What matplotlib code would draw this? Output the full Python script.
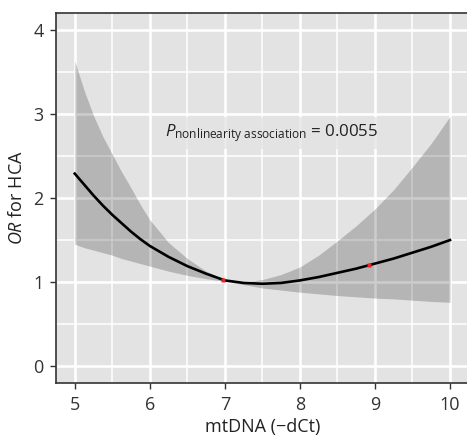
import numpy as np
import matplotlib
matplotlib.use("Agg")
import matplotlib.pyplot as plt
from matplotlib.ticker import MultipleLocator

# values (mtDNA -dCt vs OR)
mtdna = [5.0, 5.125, 5.25, 5.375, 5.5, 5.625, 5.75, 5.875, 6.0, 6.25, 6.5,
         6.75, 7.0, 7.25, 7.5, 7.75, 8.0, 8.25, 8.5, 8.75, 9.0, 9.25, 9.5,
         9.75, 10.0]
odds = [2.29, 2.16, 2.03, 1.91, 1.80, 1.70, 1.60, 1.51, 1.43, 1.30, 1.19,
        1.10, 1.02, 0.99, 0.98, 0.99, 1.02, 1.06, 1.11, 1.16, 1.22, 1.28, 1.35,
        1.42, 1.50]
ci_low = [1.45, 1.41, 1.38, 1.35, 1.32, 1.28, 1.25, 1.22, 1.19, 1.13, 1.08,
          1.04, 1.01, 0.97, 0.93, 0.905, 0.88, 0.86, 0.84, 0.825, 0.81, 0.80,
          0.785, 0.77, 0.76]
ci_high = [3.63, 3.28, 2.98, 2.73, 2.52, 2.31, 2.12, 1.92, 1.74, 1.47, 1.28,
           1.13, 1.03, 1.00, 1.03, 1.09, 1.18, 1.32, 1.49, 1.67, 1.87, 2.10,
           2.37, 2.65, 2.97]
knots_x = [6.97, 8.92]
knots_y = [1.02, 1.20]
x_ticks = [5, 6, 7, 8, 9, 10]
y_ticks = [0, 1, 2, 3, 4]
p_text = "0.0055"

plt.rcParams['font.family'] = ['Open Sans', 'DejaVu Sans']
plt.rcParams['mathtext.fontset'] = 'custom'
plt.rcParams['mathtext.rm'] = 'Open Sans'
plt.rcParams['mathtext.it'] = 'Open Sans:italic'

fig = plt.figure(figsize=(4.67, 4.37), dpi=100)
# panel runs off the right edge like in the original
ax = fig.add_axes([56 / 467, 54 / 437, 412.75 / 467, 370 / 437])
ax.set_facecolor('#e3e3e3')

ax.set_xlim(4.75, 10.25)
ax.set_ylim(-0.2, 4.2)
ax.set_xticks(x_ticks)
ax.set_yticks(y_ticks)
ax.xaxis.set_minor_locator(MultipleLocator(0.5))
ax.yaxis.set_minor_locator(MultipleLocator(0.5))
ax.grid(which='major', color='white', lw=1.9)
ax.grid(which='minor', color='white', lw=1.1)
ax.set_axisbelow(True)
ax.tick_params(which='minor', length=0)
ax.tick_params(which='major', length=4, width=1, color='#333333',
               labelsize=13, labelcolor='#333333', pad=5)

for side in ['left', 'bottom', 'top']:
    ax.spines[side].set_color('#333333')
    ax.spines[side].set_linewidth(1.2)
ax.spines['right'].set_visible(False)

ax.fill_between(mtdna, ci_low, ci_high, color='black', alpha=0.2, lw=0)
ax.plot(mtdna, odds, color='black', lw=1.9)
ax.plot(knots_x, knots_y, 's', color='#ee2222', ms=3, mec='none')

ax.text(6.2, 2.73, r'$P_{\mathrm{nonlinearity\ association}}$ = ' + p_text,
        fontsize=12.2, color='#222222', ha='left', va='baseline',
        bbox=dict(boxstyle='square,pad=0.3', fc='#e3e3e3', ec='none', alpha=0.75))

ax.set_xlabel('mtDNA (\u2212dCt)', fontsize=13, color='#222222', labelpad=3)
ax.set_ylabel(r'$OR$ for HCA', fontsize=13, color='#222222', labelpad=5)

fig.savefig('out.png', dpi=100)
